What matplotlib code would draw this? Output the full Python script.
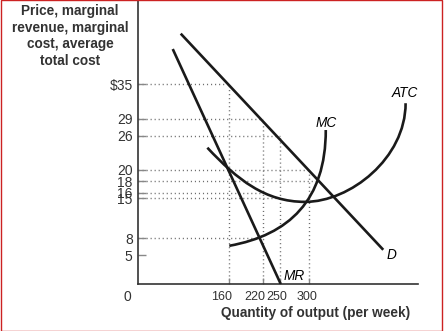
import matplotlib
matplotlib.use("Agg")
import matplotlib.pyplot as plt
from matplotlib.path import Path
from matplotlib.patches import PathPatch, Rectangle
from matplotlib.transforms import offset_copy

plt.rcParams['font.family'] = ['Liberation Sans', 'DejaVu Sans']

# demand and marginal revenue (straight lines, end points)
demand_q = [75.8, 431]
demand_p = [43.9, 6.0]
mr_q = [61.8, 251.2]
mr_p = [41.2, 0]

# cost curves as bezier control points (quantity, price)
mc_q = [161, 265.8, 330.2, 330.2]
mc_p = [6.7, 8.6, 14.7, 27.0]
atc_q = [122.5, 175.1, 223.7, 293.9, 372.8, 470.2, 470.2]
atc_p = [23.9, 18.3, 14.4, 14.4, 14.4, 22.05, 31.7]

# dotted guide lines
h_guide_p = [35, 29, 26, 20, 18, 16, 15, 8]
h_guide_q = [160, 220, 250, 300, 318, 220, 250, 220]
v_guide_q = [160, 220, 250, 300]
v_guide_p = [35, 29, 26, 20]

y_ticks = [35, 29, 26, 20, 18, 16, 15, 8, 5]
y_labels = ['$35', '29', '26', '20', '18', '16', '15', '8', '5']
x_ticks = [160, 220, 250, 300]
x_labels = ['160', '220', '250', '300']
x_label_shift = [-7, -8, -3, -2]   # pixels, labels are squeezed left in the original

ink = '#1a1a1a'
fig = plt.figure(figsize=(4.44, 3.31), dpi=100)
ax = fig.add_axes([0.3097, 0.142, 0.6318, 0.858])
ax.set_xlim(0, 492)
ax.set_ylim(0, 49.8)

# guides
for p, q in zip(h_guide_p, h_guide_q):
    ax.plot([0, q], [p, p], color='#6e6e6e', lw=1.0, ls=(0, (0.8, 2.1)), zorder=1)
for q, p in zip(v_guide_q, v_guide_p):
    ax.plot([q, q], [0, p], color='#6e6e6e', lw=1.0, ls=(0, (0.8, 2.1)), zorder=1)

# curves
ax.plot(demand_q, demand_p, color=ink, lw=1.9, solid_capstyle='butt', zorder=3)
ax.plot(mr_q, mr_p, color=ink, lw=1.9, solid_capstyle='butt', zorder=3)

mc_path = Path(list(zip(mc_q, mc_p)), [Path.MOVETO] + [Path.CURVE4] * 3)
ax.add_patch(PathPatch(mc_path, fill=False, ec=ink, lw=1.9, zorder=3))
atc_path = Path(list(zip(atc_q, atc_p)), [Path.MOVETO] + [Path.CURVE4] * 6)
ax.add_patch(PathPatch(atc_path, fill=False, ec=ink, lw=1.9, zorder=3))

# curve labels
ax.text(469, 33.5, 'ATC', style='italic', fontsize=9.8, ha='center', va='center')
ax.text(331, 28.3, 'MC', style='italic', fontsize=9.8, ha='center', va='center')
ax.text(446, 5.1, 'D', style='italic', fontsize=9.8, ha='center', va='center')
ax.text(275, 1.4, 'MR', style='italic', fontsize=9.8, ha='center', va='center')

# axes
for s in ['top', 'right']:
    ax.spines[s].set_visible(False)
for s in ['left', 'bottom']:
    ax.spines[s].set_color('#333333')
    ax.spines[s].set_linewidth(1.2)
ax.set_yticks(y_ticks)
ax.set_yticklabels(y_labels)
ax.set_xticks(x_ticks)
ax.set_xticklabels([])
ax.tick_params(axis='both', direction='in', color='#888888', labelcolor='#333333',
               labelsize=10, width=1.0)
ax.tick_params(axis='y', length=6, pad=3.5)
ax.tick_params(axis='x', length=4)
for q, lab, dx in zip(x_ticks, x_labels, x_label_shift):
    tr = offset_copy(ax.get_xaxis_transform(), fig=fig, x=dx, y=-12.7, units='dots')
    ax.text(q, 0, lab, transform=tr, ha='center', va='center', fontsize=9,
            color='#333333')
ax.annotate('0', xy=(0, 0), xytext=(-10, -13), textcoords='offset pixels',
            ha='center', va='center', fontsize=10, color='#333333')

fig.text(70 / 444, 1 - 36 / 331, 'Price, marginal\nrevenue, marginal\ncost, average\ntotal cost',
         ha='center', va='center', fontsize=9.8, fontweight='bold', color='#333333',
         linespacing=1.25)
fig.text(221 / 444, 1 - 313 / 331, 'Quantity of output (per week)', ha='left', va='center',
         fontsize=9.8, fontweight='bold', color='#333333')

# thin red frame at the image edges
fig.add_artist(Rectangle((1 / 444, 0), 440.5 / 444, 1, transform=fig.transFigure,
                         fill=False, ec='#cc2222', lw=1.0))

fig.savefig('out.png', dpi=100)
